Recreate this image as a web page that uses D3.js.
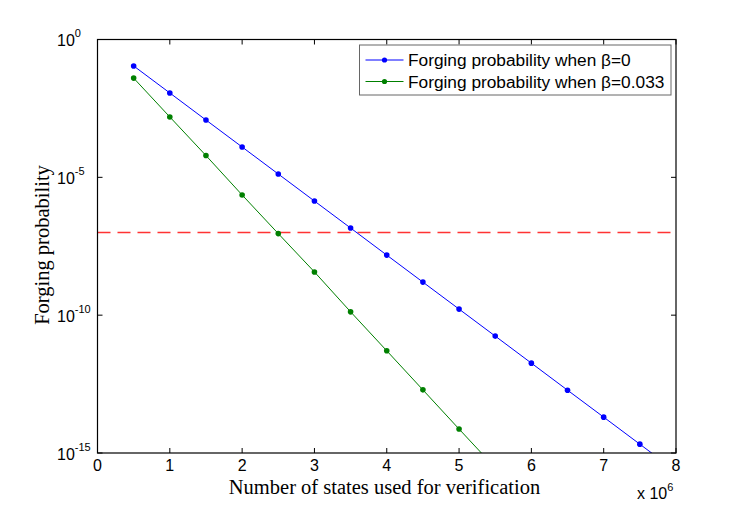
<!DOCTYPE html>
<html>
<head>
<meta charset="utf-8">
<script src="https://cdn.jsdelivr.net/npm/d3@7"></script>
<style>
  body { margin: 0; background: #fff; }
</style>
</head>
<body>
<div id="chart"></div>
<script>
var w = 747, h = 509;
var margin = {top: 39.5, right: 71, bottom: 56, left: 97.5};
var width = w - margin.left - margin.right,
    height = h - margin.top - margin.bottom;

// states used (x 10^6)
var states = [0.5, 1, 1.5, 2, 2.5, 3, 3.5, 4, 4.5, 5, 5.5, 6, 6.5, 7, 7.5, 8];
// forging probability, beta = 0
var probBeta0 = [1.1e-1, 1.15e-2, 1.2e-3, 1.26e-4, 1.32e-5, 1.38e-6, 1.45e-7, 1.51e-8,
                 1.58e-9, 1.66e-10, 1.74e-11, 1.82e-12, 1.9e-13, 2.0e-14, 2.09e-15, 2.19e-16];
// forging probability, beta = 0.033 (last one falls below the axis)
var statesB = [0.5, 1, 1.5, 2, 2.5, 3, 3.5, 4, 4.5, 5, 5.5];
var probBeta033 = [3.98e-2, 1.55e-3, 6.17e-5, 2.29e-6, 9.1e-8, 3.7e-9, 1.32e-10,
                   5.1e-12, 1.95e-13, 7.4e-15, 2.9e-16];
var threshold = 1e-7;

var xTicks = [0, 1, 2, 3, 4, 5, 6, 7, 8];
var yTicks = [1e0, 1e-5, 1e-10, 1e-15];
var yTickExp = ["0", "-5", "-10", "-15"];
var legendLabels = ["Forging probability when \u03b2=0", "Forging probability when \u03b2=0.033"];
var colors = ["#0000ff", "#008000"];

var svg = d3.select("#chart").append("svg").attr("width", w).attr("height", h);
var main = svg.append("g").attr("transform", "translate(" + margin.left + "," + margin.top + ")");

var x = d3.scaleLinear().domain([0, 8]).range([0, width]);
var y = d3.scaleLog().domain([1e-15, 1]).range([height, 0]);

main.append("clipPath").attr("id", "clip")
  .append("rect").attr("width", width).attr("height", height);

// ticks, inward on all four sides
var tk = 5;
var tg = main.append("g").attr("stroke", "#000").attr("stroke-width", 1);
xTicks.forEach(function (t) {
  tg.append("line").attr("x1", x(t)).attr("x2", x(t)).attr("y1", height).attr("y2", height - tk);
  tg.append("line").attr("x1", x(t)).attr("x2", x(t)).attr("y1", 0).attr("y2", tk);
});
yTicks.forEach(function (t) {
  tg.append("line").attr("x1", 0).attr("x2", tk).attr("y1", y(t)).attr("y2", y(t));
  tg.append("line").attr("x1", width).attr("x2", width - tk).attr("y1", y(t)).attr("y2", y(t));
});

var tickFont = "'Liberation Sans', Arial, sans-serif";
main.selectAll(".xl").data(xTicks).enter().append("text")
  .attr("x", function (d) { return x(d); })
  .attr("y", height + 18)
  .attr("text-anchor", "middle")
  .style("font-family", tickFont).style("font-size", "16px")
  .text(function (d) { return d; });

var yl = main.selectAll(".yl").data(yTicks).enter().append("text")
  .attr("x", -40.5)
  .attr("y", function (d) { return y(d) + 6.5; })
  .style("font-family", tickFont).style("font-size", "16px");
yl.append("tspan").text("10");
yl.append("tspan").attr("dy", -9).style("font-size", "11px").text(function (d, i) { return yTickExp[i]; });

// threshold
main.append("line")
  .attr("x1", 0).attr("x2", width)
  .attr("y1", y(threshold)).attr("y2", y(threshold))
  .attr("stroke", "#ff3333").attr("stroke-width", 1.4)
  .attr("stroke-dasharray", "13,7");

// series
var plot = main.append("g").attr("clip-path", "url(#clip)");
var line = d3.line().x(function (d) { return x(d[0]); }).y(function (d) { return y(d[1]); });
var series = [d3.zip(states, probBeta0), d3.zip(statesB, probBeta033)];
series.forEach(function (s, i) {
  plot.append("path").datum(s)
    .attr("fill", "none").attr("stroke", colors[i]).attr("stroke-width", 1)
    .attr("d", line);
  plot.selectAll(".p" + i).data(s).enter().append("circle")
    .attr("cx", function (d) { return x(d[0]); })
    .attr("cy", function (d) { return y(d[1]); })
    .attr("r", 2.8).attr("fill", colors[i]);
});

// frame
main.append("rect").attr("width", width).attr("height", height)
  .attr("fill", "none").attr("stroke", "#000").attr("stroke-width", 1.2);

// legend
var lg = main.append("g").attr("transform", "translate(" + (359.5 - margin.left) + "," + (45 - margin.top) + ")");
lg.append("rect").attr("width", 311.5).attr("height", 50)
  .attr("fill", "#fff").attr("stroke", "#666").attr("stroke-width", 1);
legendLabels.forEach(function (l, i) {
  var ly = 15 + i * 21.5;
  lg.append("line").attr("x1", 6).attr("x2", 44).attr("y1", ly).attr("y2", ly)
    .attr("stroke", colors[i]).attr("stroke-width", 1);
  lg.append("circle").attr("cx", 25).attr("cy", ly).attr("r", 2.6).attr("fill", colors[i]);
  lg.append("text").attr("x", 48.5).attr("y", ly + 6)
    .style("font-family", tickFont).style("font-size", "17.3px")
    .text(l);
});

// axis labels
var serif = "'Liberation Serif', 'Times New Roman', serif";
svg.append("text")
  .attr("x", 384.5).attr("y", 494)
  .attr("text-anchor", "middle")
  .style("font-family", serif).style("font-size", "20.5px")
  .text("Number of states used for verification");

svg.append("text")
  .attr("transform", "translate(49,245) rotate(-90)")
  .attr("text-anchor", "middle")
  .style("font-family", serif).style("font-size", "20.5px")
  .text("Forging probability");

var mult = svg.append("text")
  .attr("x", 637).attr("y", 499)
  .style("font-family", tickFont).style("font-size", "16px");
mult.append("tspan").text("x 10");
mult.append("tspan").attr("dy", -8).style("font-size", "11px").text("6");
</script>
</body>
</html>
